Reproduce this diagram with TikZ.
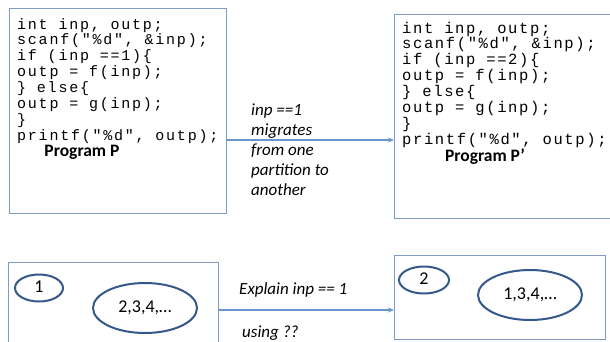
\documentclass[tikz,border=0pt]{standalone}
\usepackage{fontspec}
\setmainfont{Carlito}
\newfontfamily\codefonta[LetterSpace=11.8]{Liberation Mono}
\newfontfamily\codefontb[LetterSpace=10.5]{Liberation Mono}
\usetikzlibrary{shapes.geometric,arrows.meta}
\definecolor{boxc}{RGB}{127,154,196}
\definecolor{ellc}{RGB}{52,88,140}
\definecolor{arrc}{RGB}{105,150,208}
\newcommand\mytightlines{\lineskiplimit=-100pt\relax\lineskip=0pt\relax}
\begin{document}
\begin{tikzpicture}[x=1bp,y=-1bp,
  box/.style={draw=boxc, line width=1.2bp, inner sep=0, anchor=north west},
  codea/.style={font=\codefonta\fontsize{15bp}{15.9bp}\selectfont\mytightlines, align=left, anchor=base west, inner sep=0},
  codeb/.style={font=\codefontb\fontsize{15.5bp}{15.9bp}\selectfont\mytightlines, align=left, anchor=base west, inner sep=0},
  title/.style={font=\bfseries\fontsize{17.5bp}{20bp}\selectfont, inner sep=0},
  note/.style={font=\itshape\fontsize{17bp}{20bp}\selectfont, align=left, inner sep=0},
  part/.style={ellipse, draw=ellc, line width=2bp, inner sep=0, font=\fontsize{18bp}{20bp}\selectfont},
  arr/.style={draw=arrc, line width=1.2bp, -{Stealth[length=6bp,width=5bp]}}]
\useasboundingbox (0,0) rectangle (610,341);
% top boxes
\node[box, minimum width=217bp, minimum height=205bp] (P) at (9,8) {};
\node[box, minimum width=220bp, minimum height=204bp] (Q) at (394,14) {};
\node[codea] (pc) at (17,140.3) {int inp, outp;\\scanf("\%d", \&inp);\\if (inp ==1)\{\\outp = f(inp);\\\} else\{\\outp = g(inp);\\\}\\printf("\%d", outp);};
\node[codeb] (qc) at (402,144.3) {int inp, outp;\\scanf("\%d", \&inp);\\if (inp ==2)\{\\outp = f(inp);\\\} else\{\\outp = g(inp);\\\}\\printf("\%d", outp);};
\node[title] (pt) at (82,152) {Program P};
\node[title] (qt) at (485,157) {Program P’};
\coordinate (ya) at (0,140);
\draw[arr] (P.east |- ya) -- (Q.west |- ya);
\node[note, anchor=north west] (mig) at (251,104) {inp ==1\\migrates\\from one\\partition to\\another};
% bottom boxes
\node[box, minimum width=210bp, minimum height=90bp] (L) at (8,262) {};
\node[box, minimum width=211bp, minimum height=84bp] (R) at (394,255) {};
\node[part, minimum width=48bp, minimum height=27bp] (e1) at (39,288) {\raisebox{3bp}{1}\hspace{22bp}};
\node[part, minimum width=104bp, minimum height=50bp] (e2) at (145,308) {2,3,4,…\hspace{8bp}};
\node[part, minimum width=50bp, minimum height=27bp] (f1) at (424,280) {\raisebox{3bp}{2}\hspace{22bp}};
\node[part, minimum width=104bp, minimum height=50bp] (f2) at (530,295) {1,3,4,…\hspace{8bp}};
\coordinate (yb) at (0,310);
\draw[arr] (L.east |- yb) -- (R.west |- yb);
\node[note, anchor=base west] (ex) at (239,294) {Explain inp == 1};
\node[note, anchor=base west] (us) at (242,337) {using ??};
\end{tikzpicture}
\end{document}
